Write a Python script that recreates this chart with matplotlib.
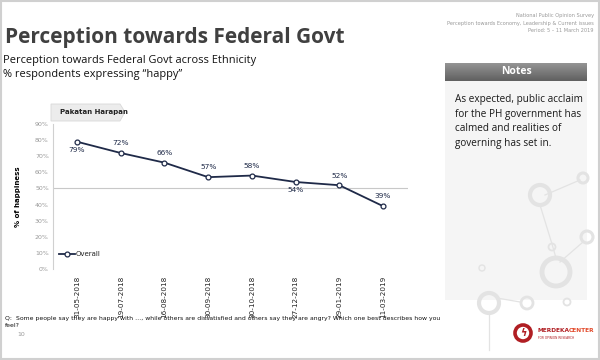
import matplotlib
matplotlib.use("Agg")
import matplotlib.pyplot as plt
from matplotlib.patches import Rectangle, Circle, Polygon
import numpy as np

W, H = 600, 360

dates = ["31-05-2018", "19-07-2018", "16-08-2018", "30-09-2018",
         "30-10-2018", "27-12-2018", "29-01-2019", "11-03-2019"]
happy = [79, 72, 66, 57, 58, 54, 52, 39]
label_below = [True, False, False, False, False, True, False, False]
yticks = list(range(0, 100, 10))

title = "Perception towards Federal Govt"
subtitle = ["Perception towards Federal Govt across Ethnicity",
            "% respondents expressing \u201chappy\u201d"]
header = ["National Public Opinion Survey",
          "Perception towards Economy, Leadership & Current issues",
          "Period: 5 \u2013 11 March 2019"]
notes = "As expected, public acclaim\nfor the PH government has\ncalmed and realities of\ngoverning has set in."
question = ("Q:  Some people say they are happy with \u2026, while others are dissatisfied and others say "
            "they are angry? Which one best describes how you\nfeel?")

NAVY = "#1f2a48"
DECO = "#e3e3e3"


def fx(x):
    return x / W


def fy(y):
    return 1 - y / H


def ring(cx, cy, r, lw, color=DECO):
    # circle given in pixel units, kept round
    fig.patches.append(Circle((cx / 100, (H - cy) / 100), r / 100,
                              transform=fig.dpi_scale_trans, fill=False,
                              edgecolor=color, linewidth=lw))


def link(xs, ys, lw=0.9):
    fig.lines.append(plt.Line2D([fx(v) for v in xs], [fy(v) for v in ys],
                                transform=fig.transFigure, color=DECO, lw=lw))


fig = plt.figure(figsize=(6, 3.6), dpi=100)
fig.patch.set_facecolor("white")

# slide frame
fig.patches.append(Rectangle((0.002, 0.004), 0.996, 0.992, transform=fig.transFigure,
                             fill=False, edgecolor="#d0d0d0", linewidth=1.5))

# notes panel
fig.patches.append(Rectangle((fx(445), fy(300)), fx(142), (300 - 81) / H,
                             transform=fig.transFigure, facecolor="#f5f5f5", edgecolor="none"))
grad = np.linspace(0.58, 0.38, 20).reshape(-1, 1)
gax = fig.add_axes([fx(445), fy(81), fx(142), 18 / H])
gax.imshow(np.dstack([grad] * 3), aspect="auto", extent=[0, 1, 0, 1])
gax.axis("off")
fig.text(fx(516), fy(72), "Notes", color="white", fontsize=7.5, fontweight="bold",
         ha="center", va="center", family="Open Sans")
fig.text(fx(455), fy(94), notes, fontsize=7.2, color="#1a1a1a", va="top",
         linespacing=1.45, family="Open Sans")

# decorative rings and links
link([545, 580], [195, 180])
link([540, 552, 556], [205, 244, 258])
link([560, 583], [262, 242])
link([489, 489], [312, 350])
link([497, 520], [298, 302])
ring(540, 195, 10, 3)
ring(583, 178, 5, 2.2)
ring(552, 247, 3.5, 1.3)
ring(587, 237, 6, 2.2)
ring(556, 272, 14, 3.5)
ring(482, 268, 3, 1.0)
ring(489, 303, 10, 3)
ring(527, 303, 6, 2)
ring(567, 302, 3.5, 1.3)

# title block
fig.text(fx(5), fy(38), title, fontsize=15, fontweight="bold", color="#404040",
         va="center", family="Open Sans")
fig.text(fx(3), fy(61), subtitle[0], fontsize=7.9, color="#111111", va="center",
         family="Open Sans")
fig.text(fx(3), fy(75), subtitle[1], fontsize=7.9, color="#111111", va="center",
         family="Open Sans")
for i, line in enumerate(header):
    fig.text(fx(594), fy(16 + i * 7), line, fontsize=3.6, color="#999999",
             ha="right", va="center")

# chart
ax = fig.add_axes([fx(53), fy(269), fx(408 - 53), (269 - 124) / H])
x = np.arange(len(dates))
ax.plot(x, happy, color=NAVY, linewidth=1.3, marker="o", markersize=3.5,
        markerfacecolor="white", markeredgecolor=NAVY, markeredgewidth=0.9,
        label="Overall", zorder=3)
ax.axhline(50, color="#c8c8c8", linewidth=0.8, zorder=1)
for xi, v, below in zip(x, happy, label_below):
    dy = -6 if below else 7
    ax.annotate(f"{v}%", (xi, v), xytext=(0, dy), textcoords="offset points",
                ha="center", va="center", fontsize=5.3, color=NAVY)
ax.set_xlim(-0.55, 7.57)
ax.set_ylim(0, 90)
ax.set_yticks(yticks)
ax.set_yticklabels([f"{t}%" for t in yticks], fontsize=4.5, color="#999999")
ax.set_xticks(x)
ax.set_xticklabels(dates, rotation=90, fontsize=5.2, color="#222222")
ax.tick_params(axis="both", length=0, pad=3)
ax.tick_params(axis="x", pad=5)
for s in ["top", "right", "bottom"]:
    ax.spines[s].set_visible(False)
ax.spines["left"].set_color("#d0d0d0")
ax.spines["left"].set_linewidth(0.8)
ax.set_ylabel("% of happiness", fontsize=5, fontweight="bold", labelpad=10)
ax.patch.set_alpha(0)
leg = ax.legend(loc="lower left", bbox_to_anchor=(0.0, 0.04), frameon=False,
                fontsize=5, handlelength=2.2, handletextpad=0.2)
for t in leg.get_texts():
    t.set_color("#222222")

# "Pakatan Harapan" tab
tab = Polygon([(fx(51), fy(104)), (fx(120), fy(104)), (fx(125), fy(112)),
               (fx(120), fy(121)), (fx(51), fy(121))], closed=True,
              transform=fig.transFigure, facecolor="#ececec", edgecolor="#d8d8d8",
              linewidth=0.6)
fig.patches.append(tab)
fig.text(fx(60), fy(112), "Pakatan Harapan", fontsize=5, fontweight="bold",
         color="#222222", va="center")

# footer
fig.text(fx(5), fy(322), question, fontsize=4.4, color="#111111", va="center",
         linespacing=1.5)
fig.text(fx(17), fy(335), "10", fontsize=4.5, color="#999999", va="center")

# logo
ring(523, 333, 8, 2.6, color="#b01e23")
fig.text(fx(523), fy(333), "\u03df", fontsize=7, color="#b01e23", ha="center",
         va="center", fontweight="bold")
merdeka = fig.text(fx(537), fy(331), "MERDEKA", fontsize=4.2, fontweight="bold",
                   color="#b01e23", va="center")
ax.annotate("CENTER", xy=(1, 0.5), xycoords=merdeka, va="center", ha="left",
            fontsize=4.2, fontweight="bold", color="#e2492a", annotation_clip=False)
fig.text(fx(538), fy(338), "FOR OPINION RESEARCH", fontsize=2.2, color="#b01e23",
         va="center")

fig.savefig("out.png", dpi=100)
